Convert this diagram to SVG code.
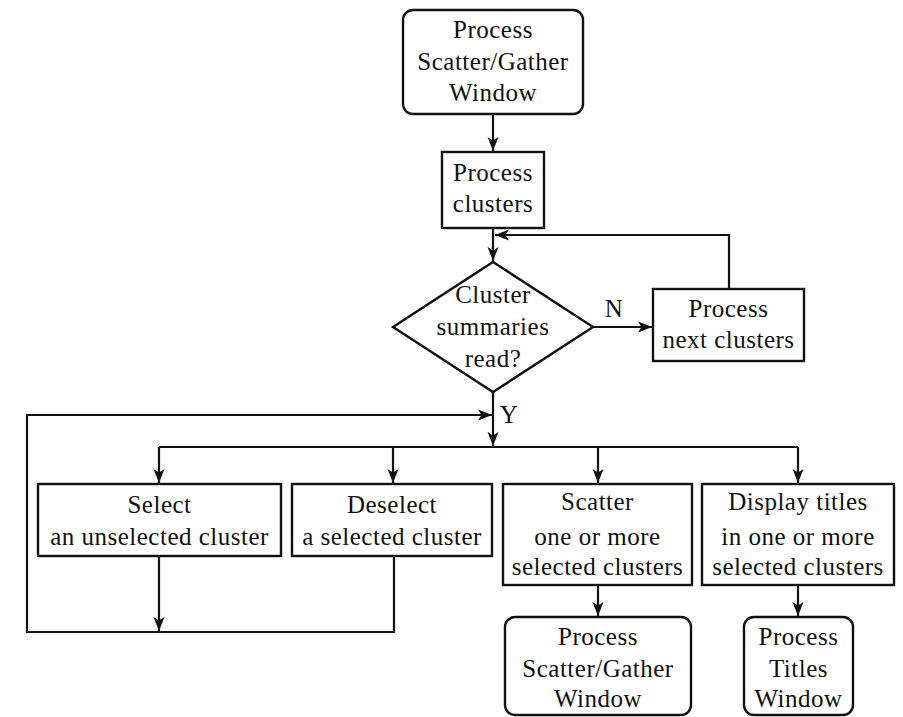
<svg xmlns="http://www.w3.org/2000/svg" width="903" height="717" viewBox="0 0 903 717">
<style>
.box{fill:#fff;stroke:#111;stroke-width:2.4}
.t{font-family:"Liberation Serif","Times New Roman",serif;font-size:25px;letter-spacing:0.5px;fill:#111;text-anchor:middle}
.c{fill:none;stroke:#111;stroke-width:2.2}
</style>
<defs>
<marker id="a" markerUnits="userSpaceOnUse" markerWidth="16" markerHeight="12" refX="14" refY="5.5" orient="auto">
<path d="M0,0 L14,5.5 L0,11 L3.5,5.5 z" fill="#111"/>
</marker>
</defs>
<rect width="903" height="717" fill="#fff"/>
<g id="connectors">
<path class="c" d="M493,114 V151" marker-end="url(#a)"/>
<path class="c" d="M493,228 V261" marker-end="url(#a)"/>
<path class="c" d="M593,327 H652" marker-end="url(#a)"/>
<path class="c" d="M729,289 V235 H495" marker-end="url(#a)"/>
<path class="c" d="M493,392 V446" marker-end="url(#a)"/>
<path class="c" d="M159,447 H798"/>
<path class="c" d="M159,447 V483" marker-end="url(#a)"/>
<path class="c" d="M393,447 V483" marker-end="url(#a)"/>
<path class="c" d="M598,447 V483" marker-end="url(#a)"/>
<path class="c" d="M798,447 V483" marker-end="url(#a)"/>
<path class="c" d="M159,556 V631" marker-end="url(#a)"/>
<path class="c" d="M394,556 V632 H27 V415 H492" marker-end="url(#a)"/>
<path class="c" d="M598,585 V616" marker-end="url(#a)"/>
<path class="c" d="M798,585 V616" marker-end="url(#a)"/>
</g>
<g id="start">
<rect class="box" x="403" y="10" width="180" height="104" rx="10"/>
<text class="t" x="493" y="38">Process</text>
<text class="t" x="493" y="70">Scatter/Gather</text>
<text class="t" x="493" y="101">Window</text>
</g>
<g id="process-clusters">
<rect class="box" x="442" y="152" width="102" height="76"/>
<text class="t" x="493" y="181">Process</text>
<text class="t" x="493" y="212">clusters</text>
</g>
<g id="decision">
<polygon class="box" points="493,262 593,327 493,392 393,327"/>
<text class="t" x="493" y="303">Cluster</text>
<text class="t" x="493" y="335">summaries</text>
<text class="t" x="493" y="367">read?</text>
<text class="t" x="614" y="317">N</text>
<text class="t" x="509" y="423">Y</text>
</g>
<g id="next-clusters">
<rect class="box" x="653" y="289" width="151" height="72"/>
<text class="t" x="728.5" y="317">Process</text>
<text class="t" x="728.5" y="348">next clusters</text>
</g>
<g id="select">
<rect class="box" x="38" y="484" width="243" height="72"/>
<text class="t" x="159.5" y="513">Select</text>
<text class="t" x="159.5" y="545">an unselected cluster</text>
</g>
<g id="deselect">
<rect class="box" x="292" y="484" width="200" height="72"/>
<text class="t" x="392" y="513">Deselect</text>
<text class="t" x="392" y="545">a selected cluster</text>
</g>
<g id="scatter">
<rect class="box" x="503" y="484" width="189" height="101"/>
<text class="t" x="597.5" y="510">Scatter</text>
<text class="t" x="597.5" y="545">one or more</text>
<text class="t" x="597.5" y="575">selected clusters</text>
</g>
<g id="display">
<rect class="box" x="702" y="484" width="192" height="101"/>
<text class="t" x="798" y="510">Display titles</text>
<text class="t" x="798" y="545">in one or more</text>
<text class="t" x="798" y="575">selected clusters</text>
</g>
<g id="sg-window">
<rect class="box" x="505" y="617" width="186" height="98" rx="10"/>
<text class="t" x="598" y="645">Process</text>
<text class="t" x="598" y="677">Scatter/Gather</text>
<text class="t" x="598" y="707">Window</text>
</g>
<g id="titles-window">
<rect class="box" x="744" y="617" width="109" height="98" rx="10"/>
<text class="t" x="798.5" y="645">Process</text>
<text class="t" x="798.5" y="677">Titles</text>
<text class="t" x="798.5" y="707">Window</text>
</g>
</svg>
